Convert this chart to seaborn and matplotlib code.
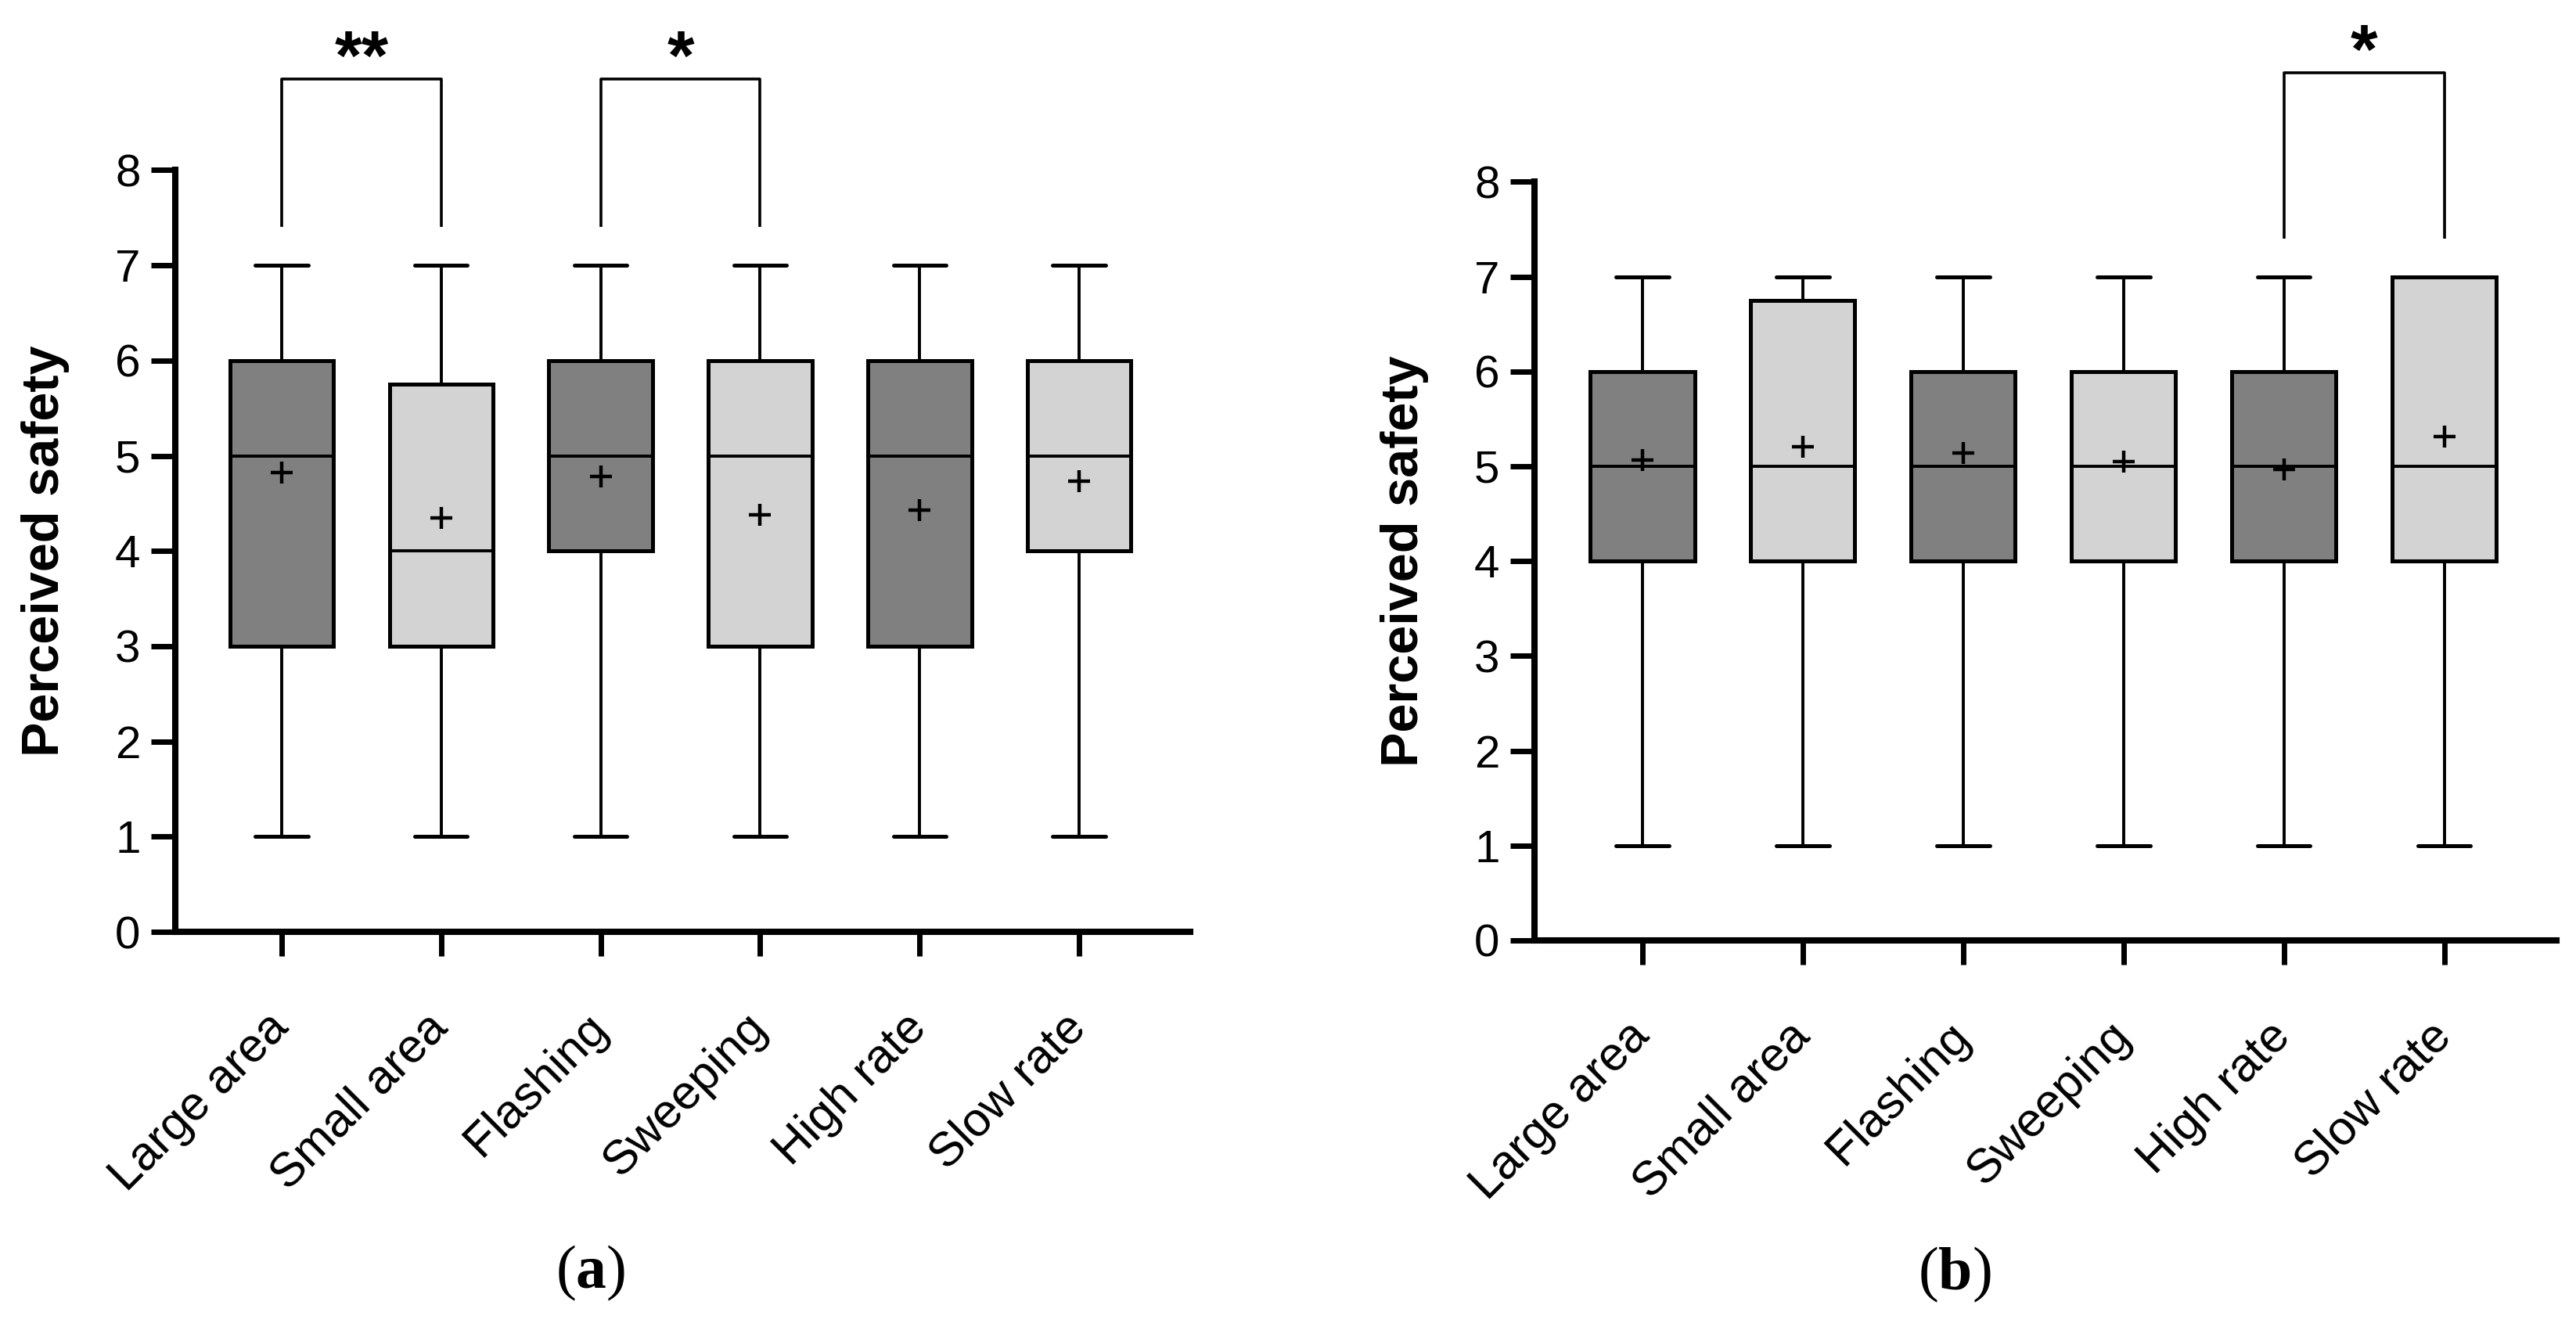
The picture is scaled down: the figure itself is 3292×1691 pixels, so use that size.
import matplotlib
matplotlib.use("Agg")
import matplotlib.pyplot as plt
import matplotlib.transforms as mtransforms
import seaborn as sns
import pandas as pd

# categories and box statistics
labels = ["Large area", "Small area", "Flashing", "Sweeping", "High rate", "Slow rate"]

a_min = [1, 1, 1, 1, 1, 1]
a_q1 = [3, 3, 4, 3, 3, 4]
a_med = [5, 4, 5, 5, 5, 5]
a_q3 = [6, 5.75, 6, 6, 6, 6]
a_max = [7, 7, 7, 7, 7, 7]
a_mean = [4.82, 4.35, 4.78, 4.38, 4.43, 4.73]

b_min = [1, 1, 1, 1, 1, 1]
b_q1 = [4, 4, 4, 4, 4, 4]
b_med = [5, 5, 5, 5, 5, 5]
b_q3 = [6, 6.75, 6, 6, 6, 7]
b_max = [7, 7, 7, 7, 7, 7]
b_mean = [5.07, 5.21, 5.14, 5.05, 4.97, 5.31]

# significance brackets: (left idx, right idx, stars)
a_sig = [(0, 1, "**"), (2, 3, "*")]
b_sig = [(4, 5, "*")]

box_colors = ["#808080", "#d3d3d3"] * 3

sns.set_style("ticks")
plt.rcParams["font.family"] = ["Liberation Sans", "DejaVu Sans"]
plt.rcParams["text.color"] = "black"
plt.rcParams["axes.labelcolor"] = "black"
plt.rcParams["xtick.color"] = "black"
plt.rcParams["ytick.color"] = "black"
plt.rcParams["mathtext.fontset"] = "custom"
plt.rcParams["mathtext.rm"] = "Liberation Serif"
plt.rcParams["mathtext.bf"] = "Liberation Serif:bold"

fig = plt.figure(figsize=(16.46, 8.455), dpi=200)


def draw_panel(ax, mins, q1, med, q3, maxs, means, sig, sig_top, ytop, xlim, label_x):
    stats = []
    for i in range(len(labels)):
        stats.append({"med": med[i], "q1": q1[i], "q3": q3[i],
                      "whislo": mins[i], "whishi": maxs[i], "fliers": []})
    bp = ax.bxp(stats, positions=range(len(labels)), widths=0.65, capwidths=0.33,
                patch_artist=True, showfliers=False,
                boxprops=dict(linewidth=1.8, edgecolor="black"),
                medianprops=dict(color="black", linewidth=1.4),
                whiskerprops=dict(color="black", linewidth=1.4),
                capprops=dict(color="black", linewidth=1.8))
    for patch, c in zip(bp["boxes"], box_colors):
        patch.set_facecolor(c)

    df = pd.DataFrame({"pos": range(len(labels)), "mean": means})
    sns.scatterplot(data=df, x="pos", y="mean", marker="+", s=100, color="black",
                    linewidth=1.6, ax=ax, zorder=5, legend=False)

    # significance brackets
    for i0, i1, stars in sig:
        ax.plot([i0, i0, i1, i1], [7.4, sig_top, sig_top, 7.4], color="black",
                lw=1.3, clip_on=False, solid_capstyle="butt")
        ax.text((i0 + i1) / 2, sig_top, stars, ha="center", va="baseline",
                fontsize=32, fontweight="bold")

    ax.set_xlim(*xlim)
    ax.set_ylim(0, ytop)
    ax.set_yticks(range(0, 9))
    ax.set_xticks(range(len(labels)))
    ax.set_xticklabels(labels, rotation=45, ha="right", va="center",
                       rotation_mode="anchor", fontsize=22)
    shift = mtransforms.ScaledTranslation(8 / 200, 0, fig.dpi_scale_trans)
    for lbl in ax.get_xticklabels():
        lbl.set_transform(lbl.get_transform() + shift)
    ax.tick_params(axis="y", labelsize=21, length=11, width=2.5, pad=5)
    ax.tick_params(axis="x", length=11, width=2.5, pad=30)
    for s in ["top", "right"]:
        ax.spines[s].set_visible(False)
    ax.spines["left"].set_bounds(0, 8)
    for s in ["left", "bottom"]:
        ax.spines[s].set_linewidth(2.9)
        ax.spines[s].set_color("black")
    ax.set_xlabel("")
    ax.set_ylabel("Perceived safety", fontsize=24, fontweight="bold")
    ax.yaxis.set_label_coords(label_x, 4 / ytop)


ax_a = fig.add_axes([0.06804, 0.29568, 0.39398, 0.69808])
ax_b = fig.add_axes([0.59569, 0.28918, 0.39672, 0.70241])

draw_panel(ax_a, a_min, a_q1, a_med, a_q3, a_max, a_mean, a_sig, 8.96, 9.7,
           (-0.667, 5.696), -0.104)
draw_panel(ax_b, b_min, b_q1, b_med, b_q3, b_max, b_mean, b_sig, 9.15, 9.8,
           (-0.673, 5.70), -0.103)

fig.text(0.2293, 0.0378, r"$(\mathbf{a})$", ha="center", va="center", fontsize=28)
fig.text(0.7588, 0.0367, r"$(\mathbf{b})$", ha="center", va="center", fontsize=28)

fig.savefig("out.png", dpi=200, facecolor="white")
